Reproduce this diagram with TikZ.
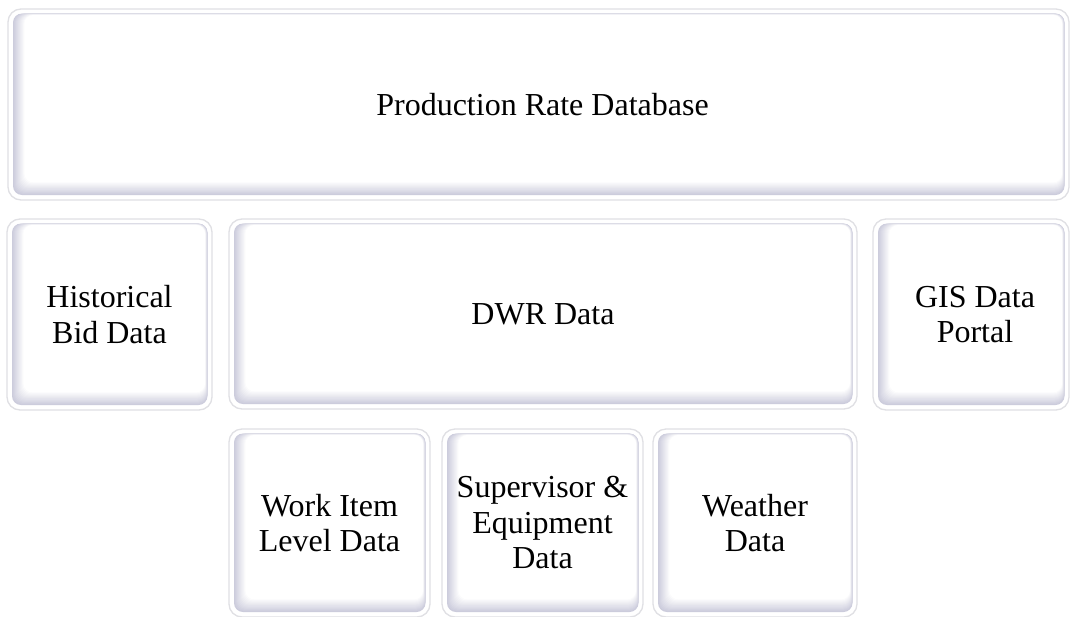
\documentclass[tikz,border=0pt]{standalone}
\usepackage{fontspec}
\setmainfont{Liberation Serif}
\usetikzlibrary{calc}
\definecolor{bev}{RGB}{204,204,220}
\definecolor{rim}{RGB}{224,224,228}
\tikzset{
  cardtext/.style={font=\fontsize{32}{35.5}\selectfont, align=center, text=black},
  card/.style={draw=rim, line width=1.3pt, fill=white, rounded corners=13pt,
    inner sep=0pt, cardtext,
    path picture={
      \foreach \i in {0,...,12}{
        \pgfmathsetmacro\m{\i*8.3}
        \fill[white!\m!bev, rounded corners=9pt]
          ($(path picture bounding box.south west)+(5pt+0.95pt*\i,5pt+1.05pt*\i)$)
          rectangle
          ($(path picture bounding box.north east)+(-4.5pt-0.2pt*\i,-4.5pt-0.12pt*\i)$);
      }
    }},
}
\begin{document}
\begin{tikzpicture}[x=1pt,y=-1pt]
\useasboundingbox (0,0) rectangle (1070,616);
\fill[white] (0,0) rectangle (1070,616);
\node[card, minimum width=1061pt, minimum height=191pt,
  label={[cardtext, xshift=4pt]center:Production Rate Database}] (prd) at (538.5,104.5) {};
\node[card, minimum width=205pt, minimum height=191pt] (hist) at (109.5,314.5) {Historical\\Bid Data};
\node[card, minimum width=628pt, minimum height=190pt] (dwr) at (543,314) {DWR Data};
\node[card, minimum width=196pt, minimum height=191pt,
  label={[cardtext, xshift=4pt]center:GIS Data\\Portal}] (gis) at (971,314.5) {};
\node[card, minimum width=201pt, minimum height=188pt] (work) at (329.5,523) {Work Item\\Level Data};
\node[card, minimum width=201pt, minimum height=188pt] (sup) at (542.5,523) {Supervisor \&\\Equipment\\Data};
\node[card, minimum width=204pt, minimum height=188pt] (wea) at (755,523) {Weather\\Data};
\end{tikzpicture}
\end{document}
